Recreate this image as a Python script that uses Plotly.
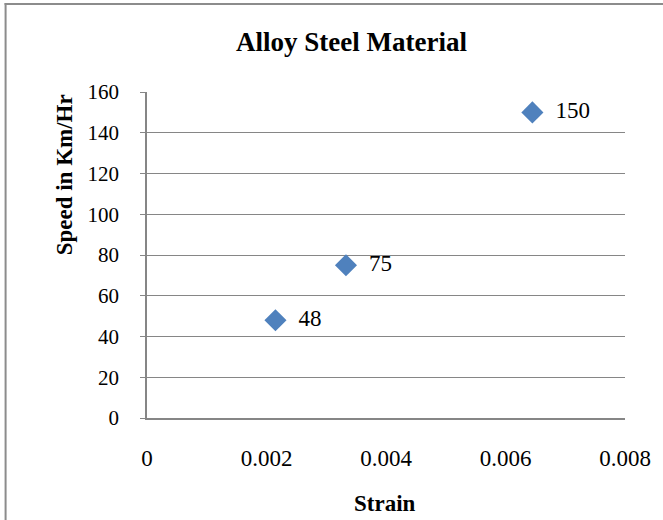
import plotly.graph_objects as go

strain = [0.00215, 0.00333, 0.00645]
speed = [48, 75, 150]
labels = ["48", "75", "150"]
x_ticks = [0, 0.002, 0.004, 0.006, 0.008]
x_tick_text = ["0", "0.002", "0.004", "0.006", "0.008"]
y_ticks = [0, 20, 40, 60, 80, 100, 120, 140, 160]

FONT = "Liberation Serif, Times New Roman, serif"
W, H = 663, 520
L, R, T, B = 147, 36, 92, 102
PW, PH = W - L - R, H - T - B


def px(x):
    return (x - L) / PW


def py(y):
    return (H - B - y) / PH


fig = go.Figure()
fig.add_trace(go.Scatter(
    x=strain, y=speed, mode="markers+text",
    marker=dict(symbol="diamond", size=17, color="#4F81BD"),
    text=["  " + t for t in labels], textposition="middle right",
    textfont=dict(family=FONT, size=23, color="#000"),
    cliponaxis=False, showlegend=False,
))

fig.update_layout(
    width=W, height=H,
    margin=dict(l=L, r=R, t=T, b=B),
    paper_bgcolor="white", plot_bgcolor="white",
    font=dict(family=FONT, size=20, color="#000"),
    xaxis=dict(range=[0, 0.008], tickvals=x_ticks, ticktext=x_tick_text,
               showgrid=False, zeroline=False, showline=True,
               linecolor="#868686", linewidth=1.5, ticks="",
               tickfont=dict(family=FONT, size=23),
               ticklabelstandoff=19, fixedrange=True),
    yaxis=dict(range=[0, 160], tickvals=y_ticks, showgrid=True,
               gridcolor="#868686", gridwidth=1.2, zeroline=False,
               showline=True, linecolor="#868686", linewidth=1.5,
               ticks="outside", ticklen=5, tickcolor="#868686",
               tickfont=dict(family=FONT, size=21),
               ticklabelstandoff=17, fixedrange=True),
    shapes=[
        dict(type="line", xref="paper", yref="paper",
             x0=px(5), x1=px(5), y0=py(3), y1=py(H + 5),
             line=dict(color="#8c8c8c", width=2)),
        dict(type="line", xref="paper", yref="paper",
             x0=px(4), x1=px(W + 5), y0=py(4), y1=py(4),
             line=dict(color="#8c8c8c", width=2)),
    ],
    annotations=[
        dict(text="<b>Alloy Steel Material</b>", xref="paper", yref="paper",
             x=px(352), y=py(42), xanchor="center", yanchor="middle",
             showarrow=False, font=dict(family=FONT, size=27)),
        dict(text="<b>Speed in Km/Hr</b>", xref="paper", yref="paper",
             x=px(64), y=py(175), xanchor="center", yanchor="middle",
             textangle=-90, showarrow=False, font=dict(family=FONT, size=23)),
        dict(text="<b>Strain</b>", xref="paper", yref="paper",
             x=px(386), y=py(503), xanchor="center", yanchor="middle",
             showarrow=False, font=dict(family=FONT, size=23)),
    ],
)

fig.write_html("out.html", config={"displayModeBar": False},
               post_script="document.body.style.margin='0';")
